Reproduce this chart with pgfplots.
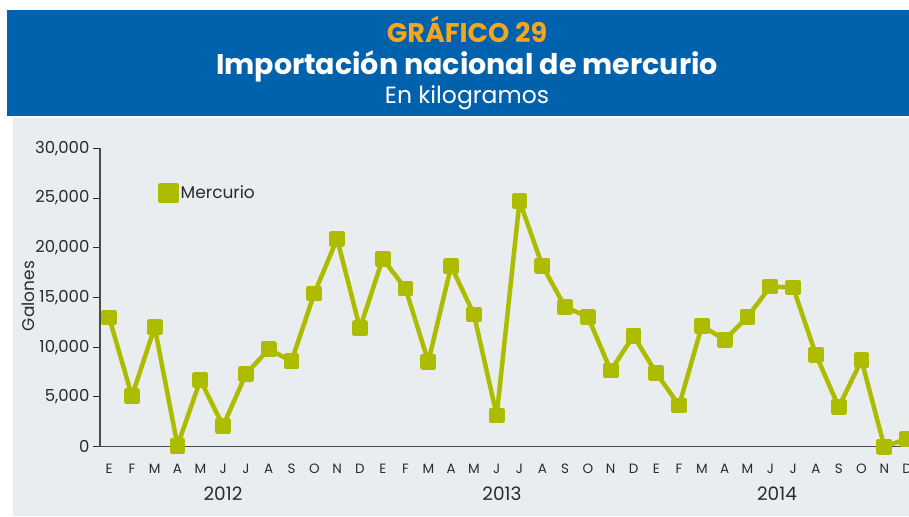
\documentclass[border=0pt]{standalone}
\usepackage{fontspec}
\setmainfont{Poppins}
\usepackage{pgfplots}
\pgfplotsset{compat=1.18}
\definecolor{hdrblue}{HTML}{0062AC}
\definecolor{hdrorange}{HTML}{F5A61E}
\definecolor{panel}{HTML}{E9EDF0}
\definecolor{merc}{HTML}{AEBC00}
\definecolor{txt}{HTML}{2B2B2B}
\begin{document}
\begin{tikzpicture}[x=1pt,y=1pt]
\path[use as bounding box] (0,0) rectangle (909,516);
\fill[white] (0,0) rectangle (909,516);
\fill[hdrblue] (7,400) rectangle (909,506);
\fill[panel] (13,0) rectangle (909,398);
\node[anchor=base, text=hdrorange, font=\fontsize{27}{30}\selectfont\bfseries] at (467,473) {GRÁFICO 29};
\node[anchor=base, text=white, font=\fontsize{28.5}{32}\selectfont\bfseries] at (467,441) {Importación nacional de mercurio};
\node[anchor=base, text=white, font=\fontsize{23.5}{27}\selectfont] at (467,412) {En kilogramos};
\node[rotate=90, text=txt, font=\fontsize{17}{20}\selectfont] at (28,220) {Galones};
\node[anchor=base, text=txt, font=\fontsize{18.5}{22}\selectfont] at (223,16) {2012};
\node[anchor=base, text=txt, font=\fontsize{18.5}{22}\selectfont] at (502,16) {2013};
\node[anchor=base, text=txt, font=\fontsize{18.5}{22}\selectfont] at (777,16) {2014};
\begin{axis}[
  at={(100pt,69.3pt)}, anchor=south west, scale only axis,
  width=809.4pt, height=298.4pt,
  xmin=-0.4, xmax=35.1, ymin=0, ymax=30000,
  clip=false,
  axis lines*=left,
  axis line style={-, draw=txt!85, line width=1.6pt},
  xtick={0,...,35},
  xticklabels={E,F,M,A,M,J,J,A,S,O,N,D,E,F,M,A,M,J,J,A,S,O,N,D,E,F,M,A,M,J,J,A,S,O,N,D},
  x tick style={draw=none},
  xticklabel style={anchor=base, yshift=-19.5pt, font=\fontsize{13.5}{16}\selectfont, text=txt},
  ytick={0,5000,10000,15000,20000,25000,30000},
  y tick style={draw=txt, line width=1pt},
  tick align=outside, major tick length=7pt,
  scaled y ticks=false,
  /pgf/number format/1000 sep={,},
  /pgf/number format/assume math mode=true,
  yticklabel style={font=\fontsize{16.5}{18}\selectfont, text=txt},
  legend image code/.code={\fill[merc] (0pt,-8pt) rectangle (16pt,8pt);},
  legend style={at={(rel axis cs:0.0717,0.85)}, anchor=west, draw=none, fill=none,
    font=\fontsize{17}{20}\selectfont, text=txt, inner sep=0pt},
  legend cell align=left,
]
\addplot[merc, line width=4.5pt, line join=round, mark=square*, mark size=5.6pt,
  mark options={draw=none, fill=merc}] coordinates {
(0,13000) (1,5100) (2,12000) (3,100) (4,6700) (5,2100) (6,7300) (7,9800) (8,8600) (9,15400) (10,20900) (11,11900)
(12,18900) (13,15900) (14,8550) (15,18150) (16,13300) (17,3150) (18,24700) (19,18200) (20,14050) (21,13050) (22,7650) (23,11150)
(24,7400) (25,4150) (26,12150) (27,10750) (28,13050) (29,16100) (30,16000) (31,9250) (32,4000) (33,8700) (34,0) (35,800)
};
\addlegendentry{Mercurio}
\end{axis}
\end{tikzpicture}
\end{document}
